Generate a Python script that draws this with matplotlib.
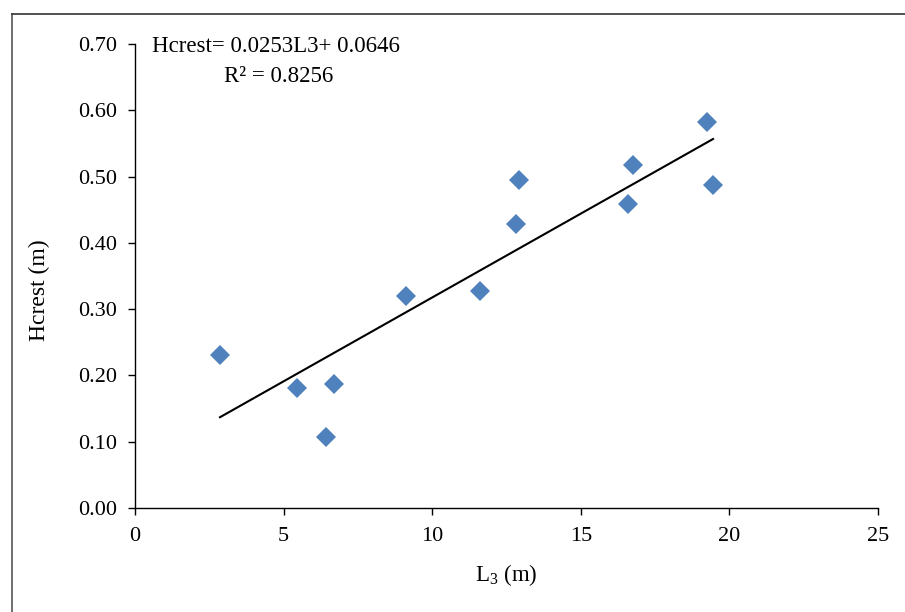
import matplotlib
matplotlib.use("Agg")
import matplotlib.pyplot as plt
from matplotlib.lines import Line2D

plt.rcParams['font.family'] = ['Liberation Serif', 'DejaVu Serif']
plt.rcParams['mathtext.fontset'] = 'custom'
plt.rcParams['mathtext.rm'] = 'Liberation Serif'
plt.rcParams['mathtext.it'] = 'Liberation Serif'

L3 = [2.86, 5.45, 6.43, 6.70, 9.12, 11.61, 12.82, 12.92, 16.59, 16.76, 19.25, 19.45]
Hcrest = [0.231, 0.181, 0.107, 0.187, 0.320, 0.327, 0.428, 0.495, 0.459, 0.517, 0.582, 0.487]
slope = 0.0253
intercept = 0.0646
x_ticks = [0, 5, 10, 15, 20, 25]
y_ticks = [0.0, 0.1, 0.2, 0.3, 0.4, 0.5, 0.6, 0.7]

fig = plt.figure(figsize=(9.05, 6.12), dpi=100)
ax = fig.add_axes([135/905, 1-508/612, (878-135)/905, (508-44)/612])

ax.plot(L3, Hcrest, linestyle='none', marker='D', markersize=10.5,
        color='#4F81BD', markeredgewidth=0, zorder=3)
xs = [min(L3), max(L3)]
ax.plot(xs, [slope*x + intercept for x in xs], color='black', linewidth=1.5, zorder=2)

ax.set_xlim(0, 25)
ax.set_ylim(0, 0.7)
ax.set_xticks(x_ticks)
ax.set_yticks(y_ticks)
ax.set_yticklabels([f"{v:.2f}" for v in y_ticks])
ax.tick_params(direction='out', length=5, width=1, labelsize=16, colors='black')
ax.tick_params(axis='x', pad=9)
ax.tick_params(axis='y', pad=8)
for s in ['top', 'right']:
    ax.spines[s].set_visible(False)
for s in ['left', 'bottom']:
    ax.spines[s].set_linewidth(1)
    ax.spines[s].set_color('black')

ax.set_xlabel('L$_\\mathrm{3}$ (m)', fontsize=16.5, va='center')
ax.xaxis.set_label_coords(0.499, -0.144)
ax.set_ylabel('Hcrest (m)', fontsize=17, va='center')
ax.yaxis.set_label_coords(-0.128, 0.47)

ax.text(152/905, 1-47/612, 'Hcrest= 0.0253L3+ 0.0646', transform=fig.transFigure,
        fontsize=16.5, ha='left', va='center')
ax.text(279/905, 1-77/612, 'R² = 0.8256', transform=fig.transFigure,
        fontsize=16.5, ha='center', va='center')

fig.add_artist(Line2D([12/905, 12/905], [0, 1-14/612], transform=fig.transFigure,
                      color='#555555', linewidth=1.2))
fig.add_artist(Line2D([12/905, 1], [1-14/612, 1-14/612], transform=fig.transFigure,
                      color='#333333', linewidth=1.2))

fig.savefig('out.png', dpi=100)
